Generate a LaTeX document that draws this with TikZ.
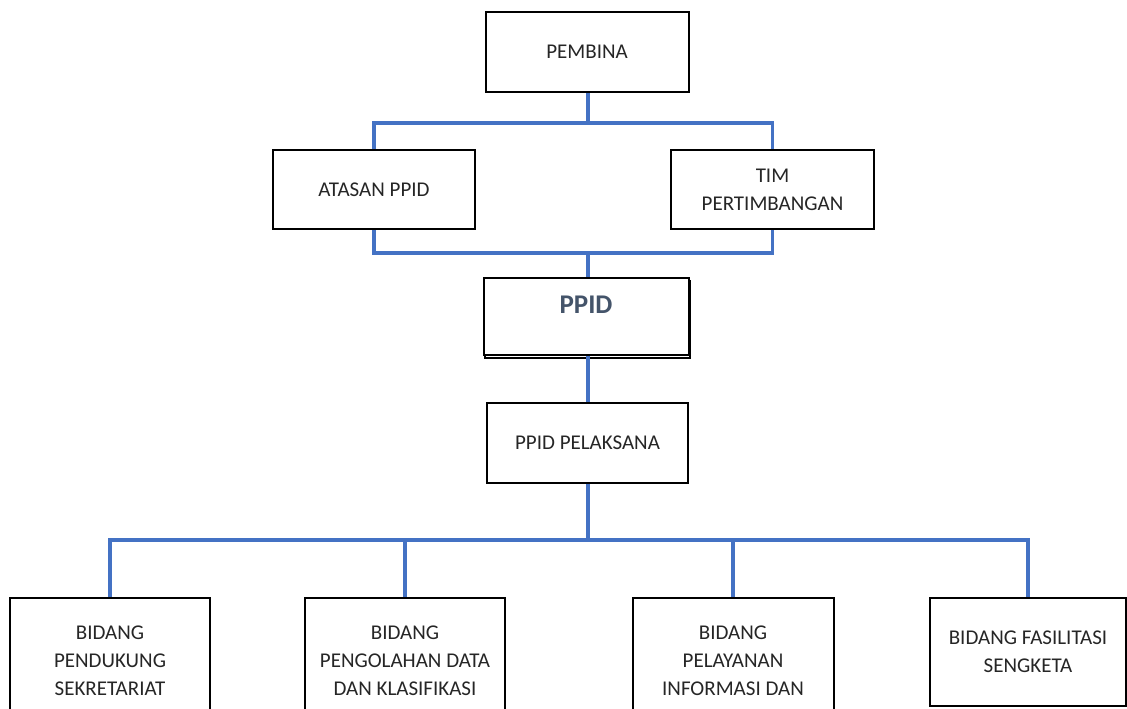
\documentclass[tikz,border=0pt]{standalone}
\usepackage{fontspec}
\setmainfont{Carlito}
\usetikzlibrary{shapes, shadows, calc, positioning}
\definecolor{linkblue}{HTML}{4472C4}
\definecolor{ppidgray}{HTML}{44546A}

\begin{document}
\begin{tikzpicture}[x=1pt, y=-1pt,
        box/.style = {draw, line width=2pt, fill=white, inner sep=0pt, align=center,
                      font=\fontsize{21}{28}\selectfont, text=black!85},
        link/.style = {draw=linkblue, line width=3.2pt}]
                \useasboundingbox (0,0) rectangle (1127,709);

                \node [box, minimum width=203, minimum height=80] (pembina) at (587, 52) {PEMBINA};
                \node [box, minimum width=202, minimum height=79] (atasan) at (374, 189.5) {ATASAN PPID};
                \node [box, minimum width=203, minimum height=79] (tim) at (772.5, 189.5) {TIM\\PERTIMBANGAN};
                \node [box, minimum width=205, minimum height=77, text height=35pt, text depth=42pt,
                       font=\fontsize{27}{30}\selectfont\bfseries, text=ppidgray,
                       copy shadow={shadow xshift=1pt, shadow yshift=-3pt}] (ppid) at (586, 316.5) {PPID};
                \node [box, minimum width=201, minimum height=80] (pelaksana) at (587.5, 443) {PPID PELAKSANA};

                \node [box, minimum width=200, minimum height=126] (sekretariat) at (110, 661) {BIDANG\\PENDUKUNG\\SEKRETARIAT};
                \node [box, minimum width=200, minimum height=126] (pengolahan) at (405, 661) {BIDANG\\PENGOLAHAN DATA\\DAN KLASIFIKASI};
                \node [box, minimum width=201, minimum height=126] (pelayanan) at (733, 661) {BIDANG\\PELAYANAN\\INFORMASI DAN};
                \node [box, minimum width=196, minimum height=108] (sengketa) at (1028, 652) {BIDANG FASILITASI\\SENGKETA};

                \coordinate (bus1) at ($(pembina.south)+(1,30)$);
                \coordinate (bus2) at (588, 253);
                \coordinate (bus3) at (588, 540);

                \draw [link] (bus1 |- pembina.south) to (bus1);
                \draw [link] (atasan.north) |- (bus1) -| (tim.north);
                \draw [link] (atasan.south) |- (bus2) -| (tim.south);
                \draw [link] (bus2) to (bus2 |- ppid.north);
                \draw [link] (bus2 |- ppid.south) to (bus2 |- pelaksana.north);
                \draw [link] (bus3 |- pelaksana.south) to (bus3);
                \draw [link] (sekretariat.north) |- (bus3) -| (sengketa.north);
                \draw [link] (pengolahan.north) to (pengolahan.north |- bus3);
                \draw [link] (pelayanan.north) to (pelayanan.north |- bus3);
            \end{tikzpicture}
\end{document}
